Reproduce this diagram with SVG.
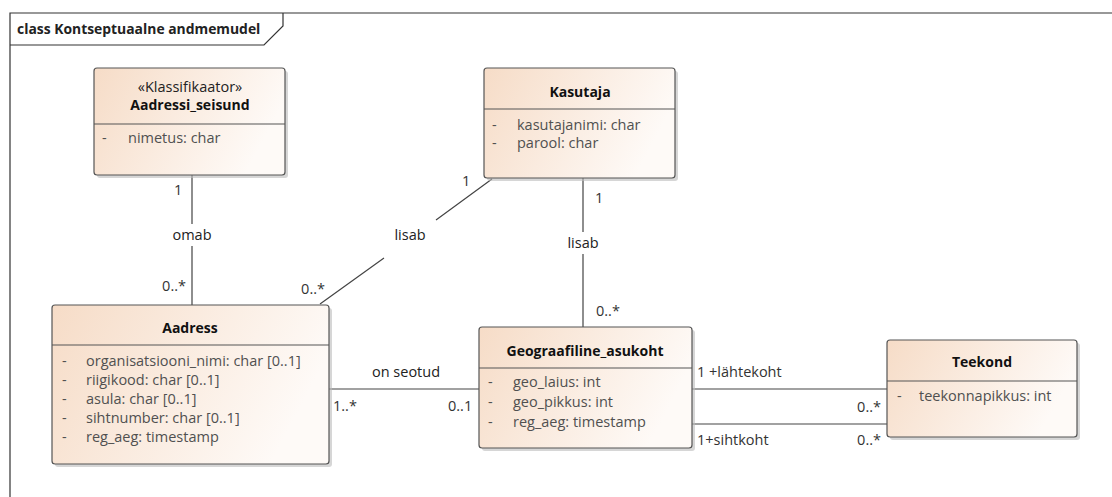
<svg xmlns="http://www.w3.org/2000/svg" width="1112" height="497" viewBox="0 0 1112 497">
<style>
text{font-family:"Open Sans","Liberation Sans",sans-serif;font-size:14.5px;fill:#222}
.t{font-weight:bold;text-anchor:middle;fill:#111;font-size:14px}
.st{text-anchor:middle;fill:#222}
.a{fill:#505050}
.box{fill:url(#g);stroke:#555;stroke-width:1.2}
.sh{fill:#bbb;opacity:0.6}
.div{stroke:#555;stroke-width:1.2}
.c{stroke:#444;stroke-width:1.2;fill:none}
.m{fill:#333}
.e{text-anchor:end}
.lbl{fill:#222;text-anchor:middle}
</style>
<defs>
<linearGradient id="g" x1="0" y1="0" x2="1" y2="0.3">
<stop offset="0" stop-color="#f6dcc7"/>
<stop offset="1" stop-color="#fefaf7"/>
</linearGradient>
</defs>
<rect width="1112" height="497" fill="#fff"/>
<g id="frame">
<path d="M10,497 V13 H1112" fill="none" stroke="#333" stroke-width="1.2"/>
<path d="M10,45 H264 L283,26 V13" fill="none" stroke="#333" stroke-width="1.2"/>
<text x="17" y="34" style="font-weight:bold;font-size:13.9px" fill="#111">class Kontseptuaalne andmemudel</text>
</g>
<g id="connectors">
<path class="c" d="M192,175 V224 M192,246 V305"/>
<path class="c" d="M492,179 L436,220 M384,258 L320,304"/>
<path class="c" d="M583,178 V232 M583,254 V327"/>
<path class="c" d="M329,389 H479"/>
<path class="c" d="M692,389 H887 M692,424 H887"/>
<text class="lbl" x="192" y="240">omab</text>
<text class="m" x="174" y="195">1</text>
<text class="m e" x="186" y="291">0..*</text>
<text class="lbl" x="410" y="240">lisab</text>
<text class="m" x="462" y="186">1</text>
<text class="m e" x="325" y="294">0..*</text>
<text class="lbl" x="583" y="248">lisab</text>
<text class="m" x="595" y="203">1</text>
<text class="m" x="596" y="316">0..*</text>
<text class="lbl" x="406" y="377">on seotud</text>
<text class="m" x="333" y="411">1..*</text>
<text class="m" x="448" y="411">0..1</text>
<text class="m" x="697" y="377">1 +lähtekoht</text>
<text class="m e" x="881" y="412">0..*</text>
<text class="m" x="697" y="445">1+sihtkoht</text>
<text class="m e" x="881" y="445">0..*</text>
</g>
<g id="Aadressi_seisund">
<rect class="sh" x="97" y="71" width="191" height="107" rx="3"/>
<rect class="box" x="94" y="68" width="191" height="107" rx="3"/>
<line class="div" x1="94" y1="124" x2="285" y2="124"/>
<text class="st" x="190" y="92">«Klassifikaator»</text>
<text class="t" x="190" y="110">Aadressi_seisund</text>
<text class="a" x="102" y="143">-</text>
<text class="a" x="128" y="143">nimetus: char</text>
</g>
<g id="Kasutaja">
<rect class="sh" x="487" y="71" width="191" height="110" rx="3"/>
<rect class="box" x="484" y="68" width="191" height="110" rx="3"/>
<line class="div" x1="484" y1="109" x2="675" y2="109"/>
<text class="t" x="580" y="97">Kasutaja</text>
<text class="a" x="492" y="130">-</text>
<text class="a" x="517" y="130">kasutajanimi: char</text>
<text class="a" x="492" y="148">-</text>
<text class="a" x="517" y="148">parool: char</text>
</g>
<g id="Aadress">
<rect class="sh" x="55" y="308" width="277" height="159" rx="3"/>
<rect class="box" x="52" y="305" width="277" height="159" rx="3"/>
<line class="div" x1="52" y1="345" x2="329" y2="345"/>
<text class="t" x="190" y="333">Aadress</text>
<text class="a" x="62" y="366">-</text>
<text class="a" x="86" y="366">organisatsiooni_nimi: char [0..1]</text>
<text class="a" x="62" y="385">-</text>
<text class="a" x="86" y="385">riigikood: char [0..1]</text>
<text class="a" x="62" y="404">-</text>
<text class="a" x="86" y="404">asula: char [0..1]</text>
<text class="a" x="62" y="423">-</text>
<text class="a" x="86" y="423">sihtnumber: char [0..1]</text>
<text class="a" x="62" y="442">-</text>
<text class="a" x="86" y="442">reg_aeg: timestamp</text>
</g>
<g id="Geograafiline_asukoht">
<rect class="sh" x="482" y="330" width="213" height="121" rx="3"/>
<rect class="box" x="479" y="327" width="213" height="121" rx="3"/>
<line class="div" x1="479" y1="368" x2="692" y2="368"/>
<text class="t" x="585" y="356">Geograafiline_asukoht</text>
<text class="a" x="488" y="387">-</text>
<text class="a" x="513" y="387">geo_laius: int</text>
<text class="a" x="488" y="407">-</text>
<text class="a" x="513" y="407">geo_pikkus: int</text>
<text class="a" x="488" y="427">-</text>
<text class="a" x="513" y="427">reg_aeg: timestamp</text>
</g>
<g id="Teekond">
<rect class="sh" x="890" y="343" width="190" height="97" rx="3"/>
<rect class="box" x="887" y="340" width="190" height="97" rx="3"/>
<line class="div" x1="887" y1="381" x2="1077" y2="381"/>
<text class="t" x="982" y="367">Teekond</text>
<text class="a" x="897" y="401">-</text>
<text class="a" x="919" y="401">teekonnapikkus: int</text>
</g>
</svg>
